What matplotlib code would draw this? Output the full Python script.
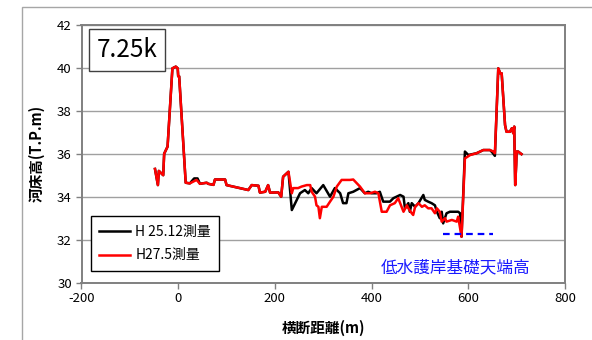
import matplotlib
matplotlib.use('Agg')
import matplotlib.pyplot as plt
from matplotlib.patches import Rectangle

plt.rcParams['font.family'] = ['Noto Sans CJK JP', 'DejaVu Sans']
plt.rcParams['axes.unicode_minus'] = False

# H27.5 survey (red)
x_h27 = [-48, -42, -40, -31, -29, -22, -12, -5, -1, 0, 2, 15.5, 24, 31, 38, 45, 59, 62, 73, 76,
         97, 100, 145, 152, 166, 169, 180, 186, 190, 207, 213, 217, 228, 235, 238, 248, 255, 266,
         273, 276, 283, 286, 290, 293, 297, 307, 314, 321, 328, 338, 355, 362, 376, 386, 397, 407,
         414, 421, 431, 438, 448, 455, 462, 466, 473, 476, 483, 486, 490, 497, 504, 510, 517, 524,
         531, 535, 541, 545, 552, 555, 566, 576, 579, 586, 593, 604, 617, 631, 645, 652, 655, 662,
         666, 669, 676, 679, 686, 690, 693, 695, 697, 699, 700, 703, 710]
y_h27 = [35.29, 34.54, 35.2, 35.0, 36.0, 36.33, 39.97, 40.05, 39.97, 39.6, 39.6, 34.65, 34.62, 34.7,
         34.78, 34.6, 34.65, 34.6, 34.55, 34.8, 34.8, 34.54, 34.31, 34.54, 34.51, 34.19, 34.23, 34.54,
         34.19, 34.2, 34.0, 34.93, 35.16, 34.16, 34.4, 34.4, 34.47, 34.54, 34.54, 34.23, 34.0, 33.6,
         33.53, 33.0, 33.53, 33.53, 33.77, 34.0, 34.47, 34.78, 34.78, 34.8, 34.47, 34.16, 34.16,
         34.23, 34.16, 33.3, 33.3, 33.6, 33.7, 33.93, 33.53, 33.3, 33.6, 33.46, 33.23, 33.15, 33.53,
         33.7, 33.53, 33.6, 33.46, 33.46, 33.23, 33.46, 33.3, 32.84, 33.0, 32.84, 32.92, 32.84,
         33.07, 32.14, 35.78, 35.94, 36.02, 36.17, 36.17, 36.1, 36.02, 39.97, 39.74, 39.74, 37.33,
         37.02, 37.02, 37.18, 36.95, 37.26, 34.54, 35.47, 36.1, 36.1, 35.98]

# H25.12 survey (black)
x_h25 = [-48, -42, -40, -31, -29, -22, -12, -5, -1, 0, 2, 15.5, 24, 33, 40, 45, 59, 62, 73, 76,
         97, 100, 145, 152, 166, 169, 180, 186, 190, 207, 213, 217, 228, 235, 252, 262, 269, 276,
         286, 300, 314, 324, 335, 341, 348, 352, 362, 376, 386, 393, 400, 410, 417, 424, 438, 445,
         459, 466, 469, 476, 479, 483, 490, 497, 507, 510, 517, 524, 531, 535, 541, 545, 548, 555,
         562, 579, 583, 586, 593, 600, 617, 631, 645, 650, 655, 662, 666, 669, 676, 679, 686, 690,
         693, 695, 697, 699, 700, 703, 710]
y_h25 = [35.29, 34.54, 35.2, 35.0, 36.0, 36.33, 39.97, 40.05, 39.97, 39.6, 39.6, 34.65, 34.62,
         34.85, 34.85, 34.6, 34.65, 34.6, 34.55, 34.8, 34.8, 34.54, 34.31, 34.54, 34.51, 34.19,
         34.23, 34.54, 34.19, 34.2, 34.0, 34.93, 35.16, 33.38, 34.16, 34.31, 34.16, 34.4, 34.16,
         34.54, 34.0, 34.4, 34.16, 33.7, 33.7, 34.16, 34.23, 34.4, 34.16, 34.23, 34.16, 34.16,
         34.23, 33.77, 33.77, 33.93, 34.08, 34.0, 33.46, 33.7, 33.3, 33.7, 33.53, 33.7, 34.08,
         33.85, 33.77, 33.7, 33.6, 33.3, 33.0, 33.3, 32.76, 33.23, 33.3, 33.3, 33.23, 32.14, 36.1,
         35.94, 36.02, 36.17, 36.17, 36.05, 35.9, 39.97, 39.74, 39.74, 37.33, 37.02, 37.02, 37.18,
         36.95, 37.26, 34.54, 35.47, 36.1, 36.1, 35.98]

# low-water revetment foundation crown height
x_crown = [548, 652]
y_crown = [32.25, 32.25]

fig = plt.figure(figsize=(5.92, 3.40), dpi=100)
fig.patches.append(Rectangle((22 / 592, -0.1), 1.2, 1 - 7 / 340 + 0.1, transform=fig.transFigure,
                             fill=False, edgecolor='#a6a6a6', linewidth=1.0))
ax = fig.add_axes([81.5 / 592, 1 - 282.7 / 340, 483.5 / 592, 258 / 340])

ax.plot(x_h25, y_h25, color='black', lw=1.8, label='H 25.12測量')
ax.plot(x_h27, y_h27, color='#ff0000', lw=1.8, label='H27.5測量')
ax.plot(x_crown, y_crown, color='#0000ff', lw=1.6, dashes=(3, 2.2))

ax.set_xlim(-200, 800)
ax.set_ylim(30, 42)
ax.set_xticks(range(-200, 801, 200))
ax.set_yticks(range(30, 43, 2))
ax.grid(axis='y', color='#a0a0a0', lw=1.0)
ax.set_axisbelow(True)
for sp in ax.spines.values():
    sp.set_color('#808080')
    sp.set_linewidth(1.4)
ax.tick_params(direction='out', length=4, color='#808080', width=1.0, labelsize=9.5, pad=3)

ax.set_xlabel('横断距離(m)', fontsize=10.5, fontweight='bold')
ax.set_ylabel('河床高(T.P.m)', fontsize=10.5, fontweight='bold')
ax.xaxis.set_label_coords(0.5, -0.176)
ax.xaxis.label.set_va('center')
ax.yaxis.set_label_coords(-0.092, 0.5)
ax.yaxis.label.set_va('center')

ax.text(0.094, 0.902, '7.25k', transform=ax.transAxes, fontsize=17.5, ha='center', va='center',
        bbox=dict(boxstyle='square,pad=0.32', facecolor='white', edgecolor='#404040', lw=1.0))
ax.text(574.6, 30.68, '低水護岸基礎天端高', color='#1a1aff', fontsize=12, ha='center', va='center')

leg = ax.legend(loc='lower left', bbox_to_anchor=(0.019, 0.0465), borderaxespad=0, fontsize=10,
                fancybox=False, edgecolor='black', framealpha=1, handlelength=2.2,
                labelspacing=0.7, handletextpad=0.4, borderpad=0.6)
leg.get_frame().set_linewidth(1.0)

fig.savefig('out.png', dpi=100)
